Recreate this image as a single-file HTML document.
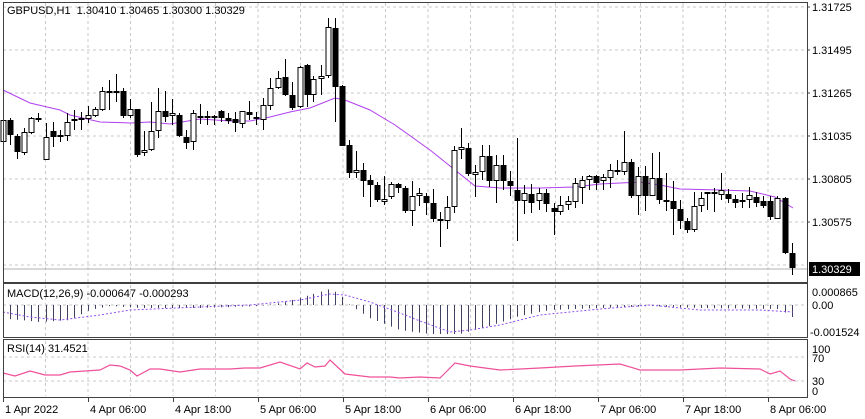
<!DOCTYPE html>
<html><head><meta charset="utf-8"><style>
html,body{margin:0;padding:0;background:#fff;}
svg{display:block;font-family:"Liberation Sans",sans-serif;}
</style></head><body>
<svg id="c" width="865" height="419" xmlns="http://www.w3.org/2000/svg"></svg>
<script>
const S=document.getElementById('c');let h='';
const L=3,R=807;
// grids
function vgrid(y1,y2){for(let x=L+42.5;x<R;x+=42.5)h+=`<line x1="${x.toFixed(1)}" y1="${y1}" x2="${x.toFixed(1)}" y2="${y2}" stroke="#c8c8c8" stroke-dasharray="3,3"/>`;}
function hg(y){h+=`<line x1="${L}" y1="${y}" x2="${R}" y2="${y}" stroke="#c8c8c8" stroke-dasharray="3,3"/>`;}
vgrid(3,282);[7,50,93,136,179,222,265].forEach(hg);
vgrid(285,336);hg(305);
vgrid(341,396);hg(357);hg(381);
// price line
h+=`<line x1="${L}" y1="269" x2="${R}" y2="269" stroke="#b0b0b0"/>`;
// MA
const ma=[[3,90],[30,103],[60,110],[70,115],[100,122],[130,123],[150,122],[170,124],[200,119],[230,121],[250,121],[270,117],[290,112],[310,108],[320,104],[335,98],[345,100],[370,110],[395,125],[430,150],[455,170],[475,186],[500,188],[540,188],[575,187],[600,184],[640,182],[660,185],[680,189],[720,190],[750,191],[775,197],[793,208]];
h+=`<polyline fill="none" stroke="#b040f0" stroke-width="1" points="${ma.map(p=>p.join(',')).join(' ')}"/>`;
// candles: x, top, bottom, wickTop, wickBot, white?
const C=[[3,120,142,118,150,1],[10,120,135,118,145,0],[17,136,152,134,159,0],[24,132,153,128,155,1],[31,118,133,117,134,1],[38,118,119,113,122,0],[46,137,160,123,160,1],[53,131,137,122,147,0],[60,135,136,130,142,0],[67,122,136,113,141,1],[74,119,121,110,130,1],[81,118,119,112,130,1],[88,115,119,106,123,1],[95,109,116,107,117,1],[102,91,110,87,111,1],[109,91,92,80,110,0],[116,91,92,74,102,1],[123,91,116,88,118,0],[130,109,116,99,118,1],[137,109,155,109,157,0],[144,150,153,131,156,1],[151,131,150,102,151,1],[158,111,131,88,138,1],[165,111,117,91,122,0],[172,113,116,99,125,1],[179,115,136,113,137,0],[186,137,143,130,149,0],[193,113,142,110,150,1],[200,116,117,104,124,1],[207,116,117,111,125,0],[214,116,118,115,125,0],[221,111,118,110,122,0],[228,118,121,113,124,0],[235,119,123,112,132,0],[242,111,124,111,128,1],[249,112,115,101,120,0],[256,117,118,112,125,1],[263,105,120,98,130,1],[270,88,106,78,110,1],[278,78,88,71,89,1],[285,77,95,59,96,0],[292,95,108,82,110,0],[300,67,107,66,108,1],[307,65,95,64,107,0],[313,79,95,76,102,1],[321,76,79,65,95,1],[328,27,76,18,78,1],[335,28,87,18,122,0],[342,86,146,85,146,0],[349,145,173,140,178,0],[356,170,173,151,178,1],[363,170,181,163,197,0],[370,180,185,175,207,0],[377,185,200,182,202,0],[384,199,202,176,205,1],[391,184,197,182,199,1],[398,184,188,183,193,0],[405,188,211,186,213,0],[412,196,211,181,226,1],[419,193,196,188,206,1],[426,196,203,193,215,0],[433,203,219,189,222,0],[440,219,221,212,247,0],[447,207,221,196,229,1],[454,150,207,146,213,1],[461,147,150,128,159,1],[468,148,174,143,176,0],[475,172,175,165,197,1],[482,156,172,145,180,1],[489,156,181,145,187,0],[496,165,181,155,203,1],[503,165,181,155,190,0],[510,181,186,171,196,0],[517,190,201,138,241,0],[524,193,201,185,214,1],[531,194,203,184,213,0],[539,193,201,188,210,1],[546,193,204,189,212,0],[554,208,212,203,235,0],[560,205,212,196,215,1],[568,201,205,196,210,1],[575,183,202,178,208,1],[582,180,188,176,204,1],[589,176,180,175,190,1],[596,176,183,175,190,0],[603,177,181,174,190,1],[610,170,178,164,188,1],[617,170,172,160,175,1],[624,162,172,131,175,1],[631,162,196,159,198,0],[638,176,196,167,215,1],[645,176,196,166,211,0],[652,178,196,153,196,1],[659,178,200,152,204,0],[666,200,201,173,211,0],[673,201,209,181,235,0],[680,209,221,200,229,0],[687,221,230,218,233,0],[694,206,230,192,232,1],[701,198,206,192,212,1],[707,192,193,192,210,1],[714,192,193,188,212,1],[721,190,195,173,200,1],[728,194,199,189,203,0],[735,199,203,195,208,0],[742,200,202,193,208,1],[749,195,200,187,208,1],[756,197,203,192,207,0],[763,201,206,196,208,0],[770,201,217,196,220,0],[777,198,219,196,219,1],[785,198,253,197,254,0],[792,253,268,243,275,0]];
C.forEach(c=>{const[x,t,b,wt,wb,w]=c;h+=`<line x1="${x+.5}" y1="${wt}" x2="${x+.5}" y2="${wb}" stroke="#000"/>`;
h+=`<rect x="${x-2}" y="${t+.5}" width="5" height="${Math.max(1,b-t-1)}" fill="${w?'#fff':'#000'}" stroke="#000"/>`;});
// MACD
function interp(pts,x){for(let i=1;i<pts.length;i++)if(x<=pts[i][0]){const a=pts[i-1],b=pts[i];return a[1]+(b[1]-a[1])*(x-a[0])/(b[0]-a[0]);}return pts[pts.length-1][1];}
const hist=[[0,318],[20,320],[40,322],[70,320],[90,310],[110,306],[140,308],[200,308],[260,306],[280,303],[300,298],[320,292],[330,289],[340,294],[350,305],[370,318],[400,330],[430,334],[460,334],[490,326],[520,316],[550,310],[600,308],[650,306],[700,308],[780,309],[794,318]];
C.forEach(c=>{const x=c[0]+.5,y=interp(hist,x);h+=`<line x1="${x}" y1="305" x2="${x}" y2="${y.toFixed(1)}" stroke="#404060"/>`;});
const sig=[[3,312],[30,317],[60,320],[100,315],[130,310],[200,307],[250,305],[300,300],[330,294],[345,295],[370,302],[400,313],[420,321],[450,332],[470,330],[500,325],[540,315],[600,309],[650,305],[700,310],[760,310],[793,312]];
h+=`<polyline fill="none" stroke="#9050f0" stroke-dasharray="2,2" points="${sig.map(p=>p.join(',')).join(' ')}"/>`;
// RSI
const rsi=[[3,373],[15,376],[30,371],[45,375],[60,375],[70,372],[100,370],[110,365],[120,366],[130,370],[137,376],[150,369],[160,369],[180,372],[200,369],[230,369],[245,368],[260,368],[280,362],[300,369],[307,363],[315,367],[325,366],[330,360],[345,374],[370,377],[390,377],[400,378],[420,377],[440,378],[455,363],[470,366],[500,370],[540,368],[575,366],[620,364],[640,370],[680,370],[720,368],[760,369],[770,374],[780,371],[790,379],[795,381]];
h+=`<polyline fill="none" stroke="#f0509a" stroke-width="1.2" points="${rsi.map(p=>p.join(',')).join(' ')}"/>`;
// borders
h+=`<rect x="${L}.5" y="2.5" width="${R-L}" height="280" fill="none" stroke="#404040"/>`;
h+=`<rect x="${L}.5" y="283.5" width="${R-L}" height="54" fill="none" stroke="#404040"/>`;
h+=`<rect x="${L}.5" y="339.5" width="${R-L}" height="58" fill="none" stroke="#404040"/>`;
// right labels
const T=(x,y,s,a)=>h+=`<text x="${x}" y="${y}" font-size="11" fill="#000"${a?` text-anchor="${a}"`:''}>${s}</text>`;
[[7,'1.31725'],[50,'1.31495'],[93,'1.31265'],[136,'1.31035'],[179,'1.30805'],[222,'1.30575']].forEach(p=>{T(812,p[0]+4,p[1]);h+=`<line x1="${R}" y1="${p[0]}" x2="${R+3}" y2="${p[0]}" stroke="#404040"/>`;});
h+=`<rect x="809" y="262" width="51" height="14" fill="#000"/><text x="812" y="273" font-size="11" fill="#fff">1.30329</text>`;
T(812,296,'0.000865');T(812,309,'0.00');T(810,336,'-0.001524');
T(812,353,'100');T(812,362,'70');T(812,385,'30');T(812,395,'0');
// time axis
const tl=['1 Apr 2022','4 Apr 06:00','4 Apr 18:00','5 Apr 06:00','5 Apr 18:00','6 Apr 06:00','6 Apr 18:00','7 Apr 06:00','7 Apr 18:00','8 Apr 06:00'];
tl.forEach((s,i)=>{const x=L+85*i;h+=`<line x1="${x+.5}" y1="398" x2="${x+.5}" y2="402" stroke="#404040"/>`;T(x+2,413,s);});
// titles
T(7,14,'GBPUSD,H1&#160;&#160;1.30410 1.30465 1.30300 1.30329');
T(7,297,'MACD(12,26,9) -0.000647 -0.000293');
T(7,352,'RSI(14) 31.4521');
S.innerHTML=h;
</script>
</body></html>
